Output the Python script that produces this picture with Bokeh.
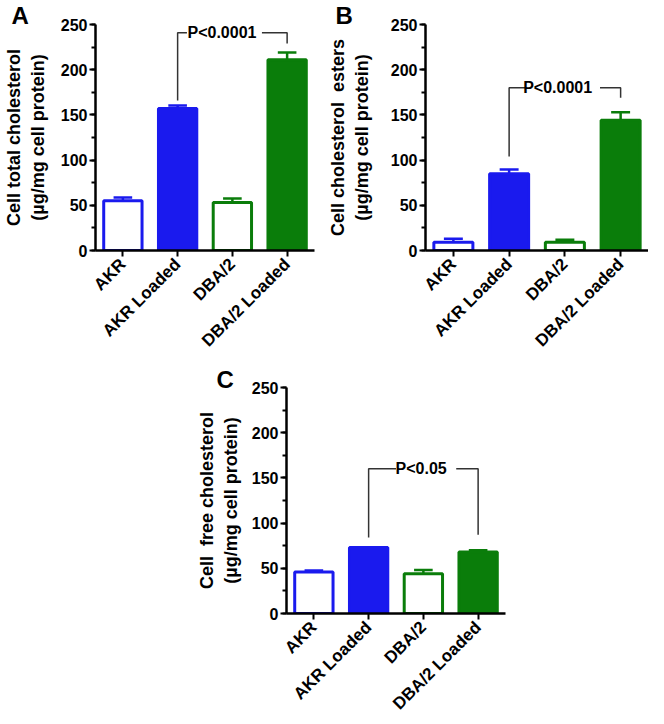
import math
from bokeh.plotting import figure
from bokeh.models import Range1d, FactorRange, SingleIntervalTicker, Spacer
from bokeh.layouts import column, row
from bokeh.embed import file_html
from bokeh.resources import INLINE
from bokeh.core.properties import value

# ---------------- data ----------------
categories = ["AKR", "AKR Loaded", "DBA/2", "DBA/2 Loaded"]
bar_colors = ["#1a1aee", "#1a1aee", "#0a7d0a", "#0a7d0a"]
bar_filled = [False, True, False, True]

total_mean = [55, 157, 53, 211]
total_sem = [3.5, 3.5, 4.5, 8]

esters_mean = [9, 85, 9, 144]
esters_sem = [4, 4.5, 3, 9]

free_mean = [46, 73, 44, 68]
free_sem = [1.5, 0, 4, 2]

y_max = 250
y_interval = 50

# significance brackets: (left category, right category, left foot, top, right foot, label)
bracket_total = ("AKR Loaded", "DBA/2 Loaded", 166, 241, 229, "P<0.0001")
bracket_esters = ("AKR Loaded", "DBA/2 Loaded", 104, 180, 169, "P<0.0001")
bracket_free = ("AKR Loaded", "DBA/2 Loaded", 84, 160, 87, "P<0.05")

FONT = "Liberation Sans"


def make_panel(letter, ylabel, means, sems, bracket, width, height,
               bl, br, bt, bb, letter_off, letter_standoff, label_standoff, gap):
    p = figure(width=width, height=height,
               x_range=FactorRange(factors=categories, range_padding=0),
               y_range=Range1d(0, y_max),
               output_backend="svg", toolbar_location=None,
               min_border_left=bl, min_border_right=br,
               min_border_top=bt, min_border_bottom=bb)
    p.outline_line_color = None
    p.xgrid.visible = False
    p.ygrid.visible = False
    p.background_fill_color = "white"
    p.border_fill_color = "white"

    # panel letter as the figure title
    p.title.text = letter
    p.title.align = "left"
    p.title.offset = letter_off
    p.title.standoff = letter_standoff
    p.title.text_baseline = "alphabetic"
    p.title.text_font = FONT
    p.title.text_font_style = "bold"
    p.title.text_font_size = "24px"
    p.title.text_color = "black"

    fills = [c if f else "white" for c, f in zip(bar_colors, bar_filled)]
    tops = [m + s for m, s in zip(means, sems)]
    idx = {c: i + 0.5 for i, c in enumerate(categories)}
    xs = [idx[c] for c in categories]

    # error bars (upward only)
    p.segment(x0=categories, y0=means, x1=categories, y1=tops,
              line_color=bar_colors, line_width=2.5)
    p.segment(x0=[x - 0.17 for x in xs], y0=tops, x1=[x + 0.17 for x in xs], y1=tops,
              line_color=bar_colors, line_width=2.5)

    p.vbar(x=categories, top=means, bottom=0, width=0.7,
           fill_color=fills, line_color=bar_colors, line_width=3)

    # bracket
    lc, rc, yl, yt, yr, txt = bracket
    xl, xr = idx[lc], idx[rc]
    gl, gr, tc = gap
    p.line(x=[xl, xl, gl], y=[yl, yt, yt], line_color="#333333", line_width=1.5)
    p.line(x=[gr, xr, xr], y=[yt, yt, yr], line_color="#333333", line_width=1.5)
    p.text(x=[tc], y=[yt], text=[txt], text_align="center", text_baseline="middle",
           text_font=value(FONT), text_font_style="bold", text_font_size="16px",
           text_color="black")

    # axes
    for ax in (p.xaxis[0], p.yaxis[0]):
        ax.axis_line_width = 2.5
        ax.axis_line_color = "black"
        ax.major_tick_line_width = 2
        ax.major_tick_line_color = "black"
        ax.major_tick_in = 0
        ax.major_tick_out = 6
        ax.major_label_text_font = FONT
        ax.major_label_text_font_style = "bold"
        ax.major_label_text_color = "black"

    p.yaxis.ticker = SingleIntervalTicker(interval=y_interval, num_minor_ticks=2)
    p.yaxis.minor_tick_in = 0
    p.yaxis.minor_tick_out = 4
    p.yaxis.minor_tick_line_width = 2
    p.yaxis.minor_tick_line_color = "black"
    p.yaxis.major_label_text_font_size = "16px"
    p.yaxis.major_label_standoff = 2
    p.yaxis.axis_label = ylabel
    p.yaxis.axis_label_text_font = FONT
    p.yaxis.axis_label_text_font_style = "bold"
    p.yaxis.axis_label_text_font_size = "18px"
    p.yaxis.axis_label_text_color = "black"
    p.yaxis.axis_label_standoff = label_standoff

    p.xaxis.major_label_orientation = math.pi / 4
    p.xaxis.major_label_text_font_size = "17px"
    p.xaxis.major_label_standoff = 5
    p.xaxis.minor_tick_line_color = None
    return p


pA = make_panel("A", "Cell total cholesterol\n(µg/mg cell protein)", total_mean, total_sem,
                bracket_total, 324, 360, 84, 10, 24, 110, -84, -9, 10,
                (1.67, 3.04, 2.31))
pB = make_panel("B", "Cell cholesterol\u00a0 esters\n(µg/mg cell protein)", esters_mean, esters_sem,
                bracket_esters, 324, 360, 95, 0, 24, 110, -90, -9, 16,
                (1.79, 3.13, 2.37))
pC = make_panel("C", "Cell\u00a0 free cholesterol\n(µg/mg cell protein)", free_mean, free_sem,
                bracket_free, 322, 364, 84, 10, 27, 111, -70, -10, 8,
                (2.0, 3.1, 2.46))

layout = column(row(pA, pB), row(Spacer(width=193, height=364), pC))

open("out.html", "w").write(file_html(layout, INLINE))
